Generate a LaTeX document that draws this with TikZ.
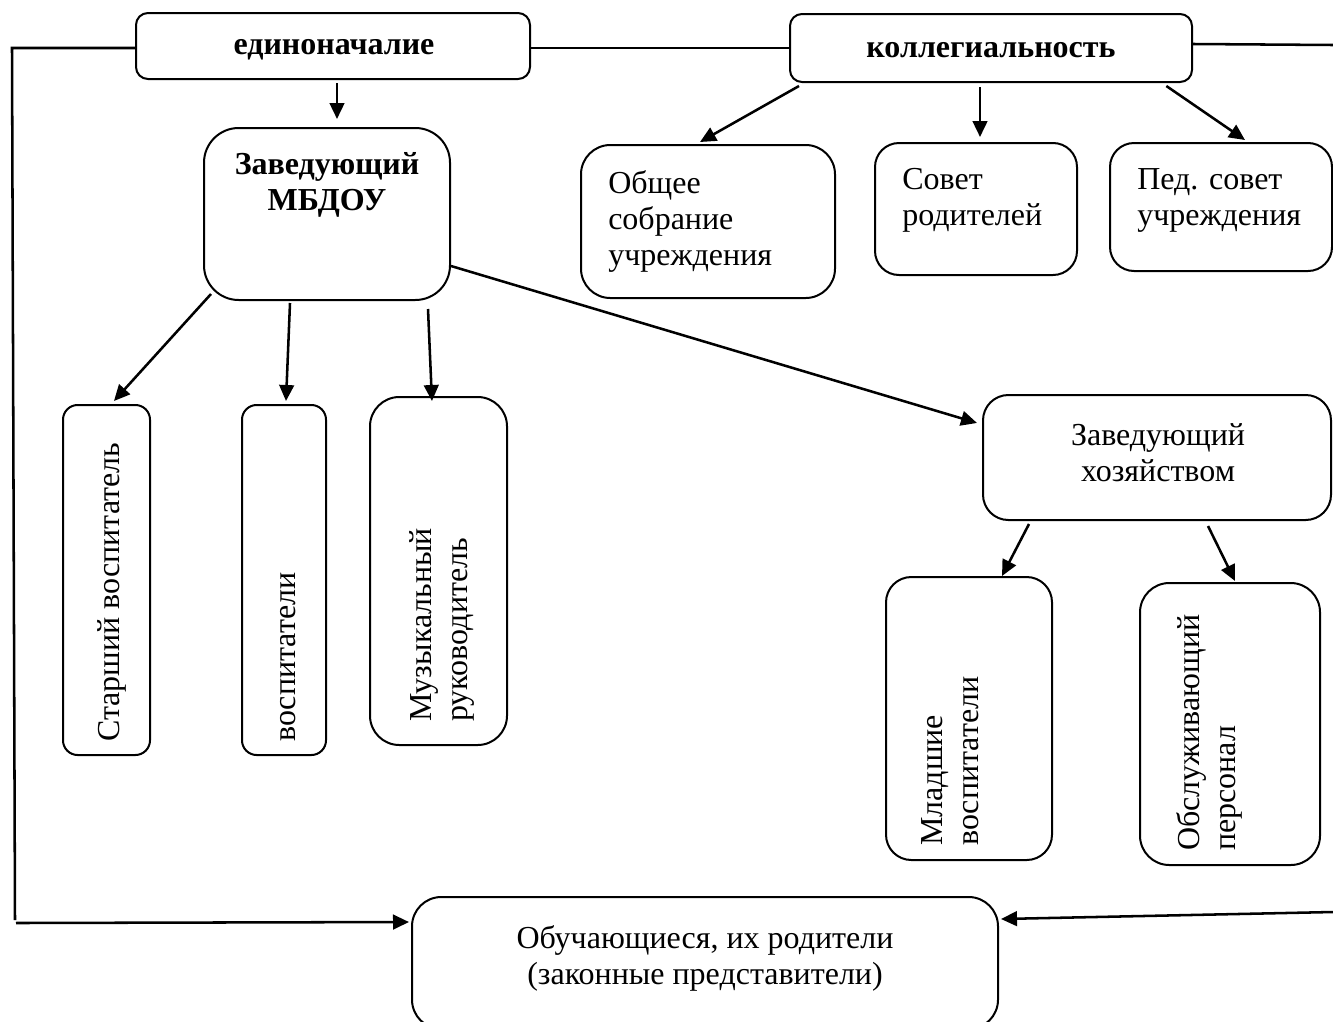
\documentclass[tikz,border=0pt]{standalone}
\usepackage{fontspec}
\setmainfont{Liberation Serif}
\usetikzlibrary{arrows.meta}
\begin{document}
\begin{tikzpicture}[x=0.75pt,y=-0.75pt,
  box/.style={draw, line width=1.5pt, rounded corners=#1, inner sep=0pt},
  box/.default=18pt,
  txt/.style={font=\fontsize{24}{27}\selectfont, inner sep=0pt},
  btxt/.style={font=\fontsize{24}{27}\selectfont\bfseries, inner sep=0pt},
  ln/.style={line width=1.9pt},
  arr/.style={line width=1.9pt, -{Triangle[length=12pt,width=11pt]}},
]
\useasboundingbox (0,0) rectangle (1333,1021);
\clip (0,0) rectangle (1333,1021);

% boxes
\node[box=9pt, minimum width=295.5pt, minimum height=49.5pt] (edin) at (333,46) {};
\node[box=9pt, minimum width=301.5pt, minimum height=51pt] (koll) at (991,48) {};
\node[box=26pt, minimum width=184.5pt, minimum height=129pt] (zav) at (327,214) {};
\node[box=22pt, minimum width=190.5pt, minimum height=114.75pt] (obsh) at (708,221.5) {};
\node[box=18pt, minimum width=151.5pt, minimum height=99pt] (sovet) at (976,209) {};
\node[box=18pt, minimum width=166.5pt, minimum height=96pt] (ped) at (1221,207) {};
\node[box=11pt, minimum width=65.25pt, minimum height=262.5pt] (star) at (106.5,580) {};
\node[box=11pt, minimum width=63pt, minimum height=262.5pt] (vosp) at (284,580) {};
\node[box=22pt, minimum width=102.75pt, minimum height=261pt] (muz) at (438.5,571) {};
\node[box=19pt, minimum width=261pt, minimum height=93.75pt] (hoz) at (1157,457.5) {};
\node[box=19pt, minimum width=124.5pt, minimum height=212.25pt] (mlad) at (969,718.5) {};
\node[box=22pt, minimum width=135pt, minimum height=211.5pt] (obsl) at (1230,724) {};
\node[box=22pt, minimum width=439.5pt, minimum height=99pt] (bot) at (705,963) {};

% texts
\node[btxt] (tedin) at (334,50) {единоначалие};
\node[btxt] (tkoll) at (991,50) {коллегиальность};
\node[btxt, align=center] (tzav) at (327,185) {Заведующий\\МБДОУ};
\node[txt, align=left, anchor=west] (tobsh) at (608,221) {Общее\\собрание\\учреждения};
\node[txt, align=left, anchor=west] (tsovet) at (902,200) {Совет\\родителей};
\node[txt, align=left, anchor=west] (tped) at (1137,200) {Пед. совет\\учреждения};
\node[txt, align=center] (thoz) at (1158,453) {Заведующий\\хозяйством};
\node[txt, rotate=90, anchor=west] (tstar) at (112,742) {Старший воспитатель};
\node[txt, rotate=90, anchor=west] (tvosp) at (288,742) {воспитатели};
\node[txt, rotate=90, anchor=west, align=left] (tmuz) at (442,722) {Музыкальный\\руководитель};
\node[txt, rotate=90, anchor=west, align=left] (tmlad) at (950,846) {Младшие\\воспитатели};
\node[txt, rotate=90, anchor=west, align=left] (tobsl) at (1209,851) {Обслуживающий\\персонал};
\node[txt, align=center] (tbot) at (705,958) {Обучающиеся, их родители\\(законные представители)};

% free corners
\coordinate (cTL) at (12,48);
\coordinate (cBL) at (15,920);
\coordinate (cBLs) at (16,923);
\coordinate (cTR) at (1333,45);
\coordinate (cBR) at (1333,912);

% lines
\draw[ln] ([yshift=-1.5pt]edin.west) -- (cTL) -- (cBL);
\draw[arr] (cBLs) -- ([xshift=-1.5pt,yshift=-19.5pt]bot.north west);
\draw[ln] ([yshift=-1.5pt]edin.east) -- (koll.west);
\draw[ln] ([yshift=3pt]koll.east) -- (cTR);
\draw[arr] (cBR) -- ([xshift=1.5pt,yshift=-17.25pt]bot.north east);

% arrows
\draw[arr] ([xshift=3pt,yshift=-2.25pt]edin.south) -- ([xshift=7.5pt,yshift=6pt]zav.north);
\draw[arr] ([xshift=7.5pt,yshift=-2.25pt]koll.south west) -- ([xshift=-6pt,yshift=1.5pt]obsh.north);
\draw[arr] ([xshift=-8.25pt,yshift=-3pt]koll.south) -- ([xshift=3pt,yshift=3.75pt]sovet.north);
\draw[arr] ([xshift=-20pt,yshift=-2.25pt]koll.south east) -- ([xshift=18pt,yshift=1.5pt]ped.north);
\draw[arr] ([xshift=6pt,yshift=5.25pt]zav.south west) -- ([xshift=5.6pt,yshift=2.25pt]star.north);
\draw[arr] ([xshift=-27.75pt,yshift=-1.5pt]zav.south) -- ([xshift=1.5pt,yshift=2.25pt]vosp.north);
\draw[arr] ([xshift=75.75pt,yshift=-6pt]zav.south) -- ([xshift=-4.9pt,yshift=-3.75pt]muz.north);
\draw[arr] ([yshift=-39pt]zav.east) -- ([xshift=-3.75pt,yshift=25.9pt]hoz.west);
\draw[arr] ([xshift=35.25pt,yshift=-2.25pt]hoz.south west) -- ([xshift=24.75pt]mlad.north);
\draw[arr] ([xshift=38.25pt,yshift=-3.75pt]hoz.south) -- ([xshift=3.75pt,yshift=0.75pt]obsl.north);
\end{tikzpicture}
\end{document}
